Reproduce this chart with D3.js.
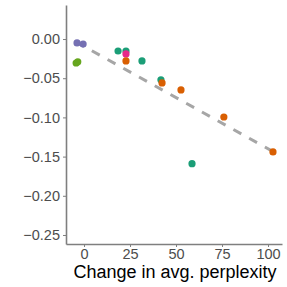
<!DOCTYPE html>
<html>
<head>
<meta charset="utf-8">
<style>
  body { margin: 0; background: #fff; }
  text { font-family: "Liberation Sans", Arial, sans-serif; }
</style>
</head>
<body>
<svg width="287" height="287"></svg>
<script src="https://cdn.jsdelivr.net/npm/d3@7/dist/d3.min.js"></script>
<script>
// one entry per point: change in perplexity, change in score, group
var xs     = [-3.8, -0.5, -4.3, -3.4, 18.5, 22.8, 31.5, 41.8, 58.7, 22.8, 22.8, 42.4, 52.7, 76.0, 102.7];
var ys     = [-0.005, -0.0064, -0.0306, -0.029, -0.0153, -0.0153, -0.028, -0.052, -0.159, -0.019, -0.028, -0.056, -0.065, -0.0995, -0.144];
var groups = ["d", "d", "e", "e", "a", "a", "a", "a", "a", "c", "b", "b", "b", "b", "b"];
var groupColors = { a: "#1b9e77", b: "#d95f02", c: "#e7298a", d: "#7570b3", e: "#66a61e" };
var fitX = [-4.3, 102.7];
var fitY = [-0.0038, -0.1435];
var xTicks = [0, 25, 50, 75, 100];
var yTicks = [0, -0.05, -0.10, -0.15, -0.20, -0.25];

var svg = d3.select("svg");

var x = d3.scaleLinear().domain([-9.8, 107.6]).range([66, 282]);
var y = d3.scaleLinear().domain([-0.2615, 0.0434]).range([244, 5]);

// fitted trend
svg.append("line")
    .attr("x1", x(fitX[0])).attr("y1", y(fitY[0]))
    .attr("x2", x(fitX[1])).attr("y2", y(fitY[1]))
    .attr("stroke", "#a6a6a6")
    .attr("stroke-width", 3)
    .attr("stroke-dasharray", "9,9");

svg.append("g")
    .selectAll("circle")
    .data(xs.map(function(d, i) { return { x: d, y: ys[i], g: groups[i] }; }))
    .enter().append("circle")
        .attr("cx", function(d) { return x(d.x); })
        .attr("cy", function(d) { return y(d.y); })
        .attr("r", 3.6)
        .attr("fill", function(d) { return groupColors[d.g]; });

var xAxis = svg.append("g")
    .attr("transform", "translate(0,244)")
    .call(d3.axisBottom(x).tickValues(xTicks).tickSize(3).tickPadding(2).tickSizeOuter(0));

var yAxis = svg.append("g")
    .attr("transform", "translate(66,0)")
    .call(d3.axisLeft(y).tickValues(yTicks).tickSize(3).tickPadding(3).tickSizeOuter(0)
        .tickFormat(function(d) { return d3.format(".2f")(d).replace("-", "\u2212"); }));

[xAxis, yAxis].forEach(function(a) {
    a.select(".domain").attr("stroke", "#7f7f7f").attr("stroke-width", 1.6);
    a.selectAll(".tick line").attr("stroke", "#7f7f7f");
    a.selectAll(".tick text")
        .attr("fill", "#4d4d4d")
        .style("font-size", "14.5px")
        .style("font-family", "'Liberation Sans', Arial, sans-serif");
});

svg.append("text")
    .attr("x", 175)
    .attr("y", 278)
    .attr("text-anchor", "middle")
    .attr("fill", "#000")
    .style("font-size", "18px")
    .text("Change in avg. perplexity");
</script>
</body>
</html>
